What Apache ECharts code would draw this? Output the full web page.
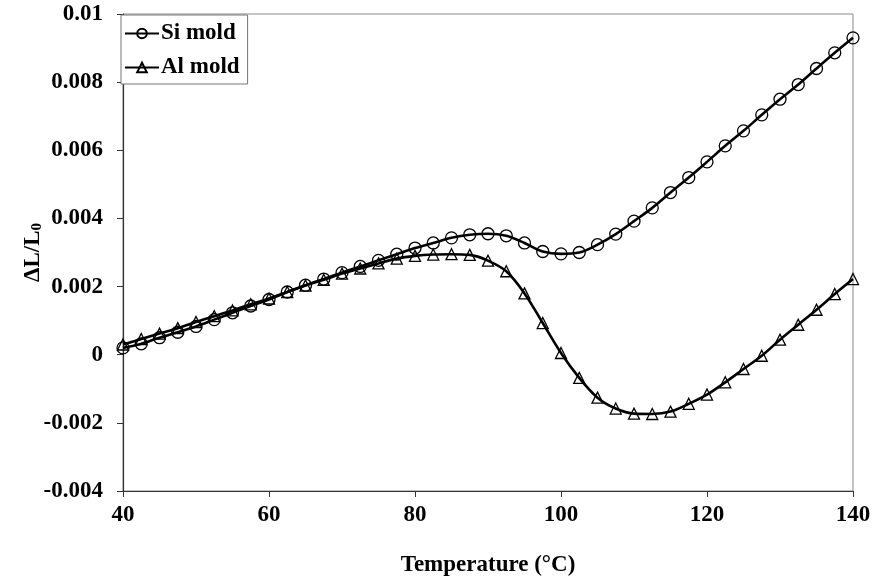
<!DOCTYPE html>
<html>
<head>
<meta charset="utf-8">
<script src="https://cdn.jsdelivr.net/npm/echarts@6/dist/echarts.min.js"></script>
<style>
html,body{margin:0;padding:0;background:#fff;}
#chart{width:876px;height:581px;}
</style>
</head>
<body>
<div id="chart"></div>
<script>
// Temperature samples (°C)
const temperature = [40, 42.5, 45, 47.5, 50, 52.5, 55, 57.5, 60, 62.5, 65, 67.5, 70, 72.5, 75, 77.5,
  80, 82.5, 85, 87.5, 90, 92.5, 95, 97.5, 100, 102.5, 105, 107.5, 110, 112.5, 115, 117.5,
  120, 122.5, 125, 127.5, 130, 132.5, 135, 137.5, 140];

// Thermal strain ΔL/L0, Si mold
const siMold = [0.00020, 0.00032, 0.00050, 0.00066, 0.00083, 0.00103, 0.00123, 0.00143, 0.00162,
  0.00184, 0.00204, 0.00222, 0.00241, 0.00259, 0.00277, 0.00295, 0.00313, 0.00328, 0.00343,
  0.00352, 0.00355, 0.00349, 0.00328, 0.00303, 0.00296, 0.00300, 0.00323, 0.00354, 0.00392,
  0.00431, 0.00476, 0.00520, 0.00566, 0.00613, 0.00657, 0.00704, 0.00750, 0.00793, 0.00840,
  0.00886, 0.00930];

// Thermal strain ΔL/L0, Al mold
const alMold = [0.00030, 0.00046, 0.00062, 0.00078, 0.00096, 0.00113, 0.00130, 0.00148, 0.00165,
  0.00184, 0.00203, 0.00220, 0.00238, 0.00253, 0.00268, 0.00282, 0.00290, 0.00294, 0.00295,
  0.00293, 0.00276, 0.00245, 0.00180, 0.00093, 0.00005, -0.00068, -0.00126, -0.00158, -0.00173,
  -0.00174, -0.00167, -0.00144, -0.00117, -0.00081, -0.00042, -0.00003, 0.00044, 0.00088,
  0.00132, 0.00178, 0.00222];

const seriesNames = ['Si mold', 'Al mold'];

const pair = (ys) => temperature.map((t, i) => [t, ys[i]]);
const serif = '"Liberation Serif", "DejaVu Serif", serif';

const chart = echarts.init(document.getElementById('chart'));

const lineSeries = (name, ys, symbol, size) => ({
  name: name,
  type: 'line',
  data: pair(ys),
  smooth: 0.35,
  symbol: symbol,
  symbolSize: size,
  showAllSymbol: true,
  lineStyle: { color: '#000', width: 2.6 },
  itemStyle: { color: 'rgba(0,0,0,0)', borderColor: '#000', borderWidth: 1.3 },
  emphasis: { disabled: true },
  z: 3
});

chart.setOption({
  backgroundColor: '#fff',
  animation: false,
  grid: {
    left: 123, right: 23, top: 14, bottom: 90,
    outerBoundsMode: 'none',
    containLabel: false,
    show: true, borderColor: '#8a8a8a', borderWidth: 1
  },
  legend: {
    left: 121, top: 15,
    orient: 'vertical',
    data: seriesNames,
    itemWidth: 34, itemHeight: 12, itemGap: 11,
    padding: [7, 8, 5, 3],
    borderColor: '#777', borderWidth: 1,
    backgroundColor: '#fff',
    textStyle: { fontFamily: serif, fontWeight: 'bold', fontSize: 23, color: '#000', padding: [0, 0, 0, -3] }
  },
  xAxis: {
    type: 'value',
    min: 40, max: 140, interval: 20,
    name: 'Temperature (°C)',
    nameLocation: 'middle',
    nameGap: 63,
    nameMoveOverlap: false,
    nameTextStyle: { fontFamily: serif, fontWeight: 'bold', fontSize: 23, color: '#000' },
    axisLine: { show: true, onZero: false, lineStyle: { color: '#333', width: 1.2 } },
    axisTick: { show: true, length: 6, inside: false, lineStyle: { color: '#333' } },
    axisLabel: { fontFamily: serif, fontWeight: 'bold', fontSize: 23, color: '#000', margin: 13 },
    splitLine: { show: false }
  },
  yAxis: {
    type: 'value',
    min: -0.004, max: 0.01, interval: 0.002,
    name: '{a|ΔL/L}{b|0}',
    nameLocation: 'middle',
    nameGap: 78,
    nameRotate: 90,
    nameMoveOverlap: false,
    nameTextStyle: {
      rich: {
        a: { fontFamily: serif, fontWeight: 'bold', fontSize: 23, color: '#000' },
        b: { fontFamily: serif, fontWeight: 'bold', fontSize: 15, color: '#000', verticalAlign: 'bottom', padding: [9, 0, 0, 0] }
      }
    },
    axisLine: { show: true, onZero: false, lineStyle: { color: '#333', width: 1.2 } },
    axisTick: { show: true, length: 6, inside: false, lineStyle: { color: '#333' } },
    axisLabel: {
      fontFamily: serif, fontWeight: 'bold', fontSize: 23, color: '#000', margin: 20,
      formatter: (v) => String(parseFloat(v.toFixed(4)))
    },
    splitLine: { show: false }
  },
  series: [
    lineSeries(seriesNames[0], siMold, 'circle', 12),
    lineSeries(seriesNames[1], alMold, 'triangle', 11)
  ]
});
</script>
</body>
</html>
